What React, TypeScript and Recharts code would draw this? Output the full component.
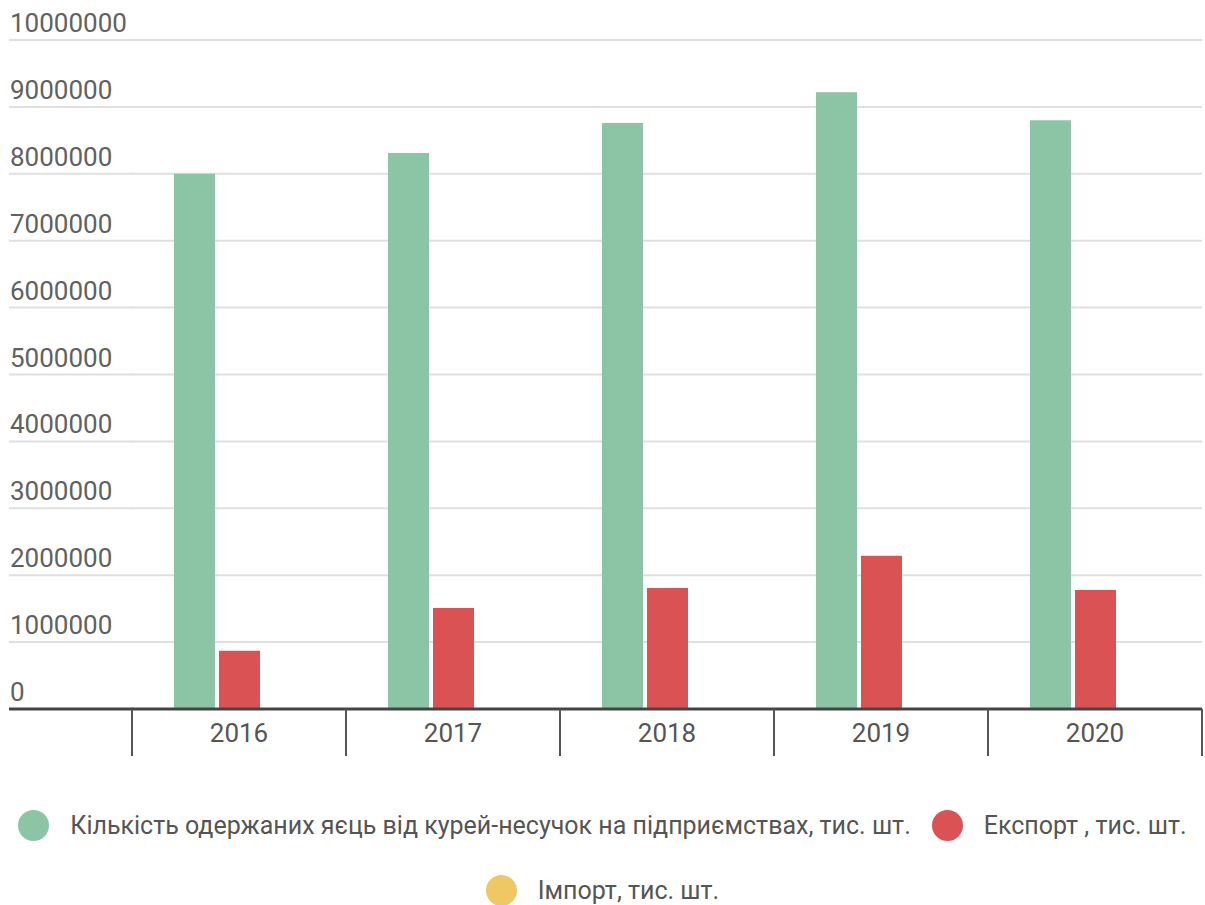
import React from 'react';
import { BarChart, Bar, XAxis, YAxis, CartesianGrid, Legend } from 'recharts';

const years = ['2016', '2017', '2018', '2019', '2020'];
const eggs = [8000000, 8310000, 8760000, 9220000, 8800000];
const exportsEggs = [870000, 1510000, 1810000, 2290000, 1780000];
const importsEggs = [0, 0, 0, 0, 0];
const yTicks = [0, 1000000, 2000000, 3000000, 4000000, 5000000, 6000000, 7000000, 8000000, 9000000, 10000000];

const seriesKeys = ['eggs', 'exp', 'imp'];
const seriesNames = [
    'Кількість одержаних яєць від курей-несучок на підприємствах, тис. шт.',
    'Експорт , тис. шт.',
    'Імпорт, тис. шт.',
];

const data = years.map((year, i) => ({
    year,
    eggs: eggs[i],
    exp: exportsEggs[i],
    imp: importsEggs[i],
}));

const FONT = 'Roboto, "Noto Sans", sans-serif';

// y labels sit above the gridline, flush left; the left stub of each gridline is drawn here
const YTick = (props: any) => {
    const { y, payload } = props;
    const isZero = payload.value === 0;
    return (
        <g>
            <line x1={9} x2={133} y1={y} y2={y}
                stroke={isZero ? '#444' : '#e0e0e0'} strokeWidth={isZero ? 3 : 2} />
            <text x={10} y={y - 8} fill="#616161" fontSize={26} fontFamily={FONT}>
                {payload.value}
            </text>
        </g>
    );
};

const XTick = (props: any) => {
    const { x, y, payload } = props;
    const half = payload.offset || 0;
    return (
        <g>
            <line x1={x - half} x2={x - half} y1={y} y2={y + 47} stroke="#555" strokeWidth={2} />
            <line x1={x + half} x2={x + half} y1={y} y2={y + 47} stroke="#555" strokeWidth={2} />
            <text x={x} y={y + 33} textAnchor="middle" fill="#555" fontSize={26} fontFamily={FONT}>
                {payload.value}
            </text>
        </g>
    );
};

const renderLegend = (props: any) => {
    const items = [...(props.payload || [])].sort(
        (a: any, b: any) => seriesKeys.indexOf(a.dataKey) - seriesKeys.indexOf(b.dataKey)
    );
    const item = (entry: any, last: boolean) => (
        <div key={entry.value} style={{ display: 'flex', alignItems: 'center', marginRight: last ? 0 : 21 }}>
            <div style={{ width: 31, height: 31, borderRadius: '50%', background: entry.color, marginRight: 21 }} />
            <span>{entry.value}</span>
        </div>
    );
    return (
        <div style={{ fontFamily: FONT, fontSize: 25, color: '#555', width: 1205 }}>
            <div style={{ display: 'flex', justifyContent: 'center', alignItems: 'center', height: 50 }}>
                {items.slice(0, 2).map((e: any, i: number) => item(e, i === 1))}
            </div>
            <div style={{ display: 'flex', justifyContent: 'center', alignItems: 'center', height: 50, marginTop: 15 }}>
                {items.slice(2).map((e: any) => item(e, true))}
            </div>
        </div>
    );
};

export default function App() {
    return (
        <div style={{ position: 'absolute', left: 0, top: 0, background: '#fff' }}>
            <BarChart width={1205} height={905} data={data}
                margin={{ top: 40, right: 3, left: 0, bottom: 0 }}
                barSize={41} barGap={4}>
                <CartesianGrid vertical={false} stroke="#e0e0e0" strokeWidth={2} />
                <YAxis width={132} domain={[0, 10000000]} ticks={yTicks} axisLine={false} tickLine={false}
                    tick={<YTick />} interval={0} />
                <XAxis dataKey="year" height={196} tick={<XTick />} tickLine={false} tickSize={0} tickMargin={0}
                    axisLine={{ stroke: '#444', strokeWidth: 3 }} interval={0} />
                <Legend verticalAlign="middle" align="center" layout="horizontal"
                    wrapperStyle={{ top: 800, left: 0, width: 1205 }} content={renderLegend} />
                <Bar dataKey="eggs" name={seriesNames[0]} fill="#8cc4a6" isAnimationActive={false} />
                <Bar dataKey="exp" name={seriesNames[1]} fill="#db5254" isAnimationActive={false} />
                <Bar dataKey="imp" name={seriesNames[2]} fill="#efc865" isAnimationActive={false} />
            </BarChart>
        </div>
    );
}
